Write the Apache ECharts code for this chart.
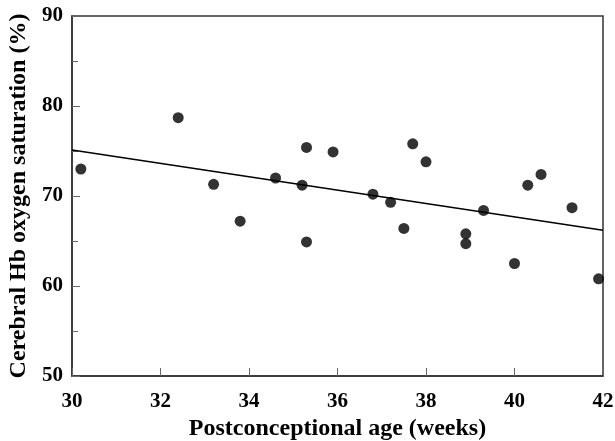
<!DOCTYPE html>
<html>
<head>
<meta charset="utf-8">
<script src="https://cdn.jsdelivr.net/npm/echarts@6/dist/echarts.min.js"></script>
<style>html,body{margin:0;padding:0;background:#fff}#c{width:615px;height:441px}</style>
</head>
<body>
<div id="c"></div>
<script>
const ageWeeks = [30.2, 32.4, 33.2, 33.8, 34.6, 35.2, 35.3, 35.3, 35.9, 36.8, 37.2, 37.5, 37.7, 38.0, 38.9, 38.9, 39.3, 40.0, 40.3, 40.6, 41.3, 41.9];
const saturation = [73.0, 78.7, 71.3, 67.2, 72.0, 71.2, 75.4, 64.9, 74.9, 70.2, 69.3, 66.4, 75.8, 73.8, 65.8, 64.7, 68.4, 62.5, 71.2, 72.4, 68.7, 60.8];
const fitX = [30, 42];
const fitY = [75.1, 66.2];
const xTitle = 'Postconceptional age (weeks)';
const yTitle = 'Cerebral Hb oxygen saturation (%)';

const font = '"Liberation Serif", "Times New Roman", serif';
const chart = echarts.init(document.getElementById('c'));
chart.setOption({
  animation: false,
  grid: {left: 72, right: 12, top: 16, bottom: 65, outerBoundsMode: 'none', containLabel: false, show: true, borderColor: '#333', borderWidth: 1.5, backgroundColor: 'transparent'},
  xAxis: {
    type: 'value', min: 30, max: 42, interval: 2,
    name: xTitle, nameLocation: 'middle', nameGap: 41,
    nameTextStyle: {fontFamily: font, fontWeight: 'bold', fontSize: 24, color: '#000'},
    axisLine: {show: true, onZero: false, lineStyle: {color: '#333', width: 1.5}},
    axisTick: {show: true, inside: true, length: 8, lineStyle: {color: '#666', width: 1}},
    axisLabel: {fontFamily: font, fontWeight: 'bold', fontSize: 21, color: '#000', margin: 15},
    splitLine: {show: false}
  },
  yAxis: {
    type: 'value', min: 50, max: 90, interval: 10,
    name: yTitle, nameLocation: 'middle', nameGap: 40, nameRotate: 90,
    nameTextStyle: {fontFamily: font, fontWeight: 'bold', fontSize: 24, color: '#000'},
    axisLine: {show: true, onZero: false, lineStyle: {color: '#333', width: 1.5}},
    axisTick: {show: true, inside: true, length: 8, lineStyle: {color: '#666', width: 1}},
    minorTick: {show: true, splitNumber: 2, length: 6, lineStyle: {color: '#666', width: 1}},
    axisLabel: {fontFamily: font, fontWeight: 'bold', fontSize: 21, color: '#000', margin: 9},
    splitLine: {show: false}
  },
  series: [
    {
      type: 'line',
      data: fitX.map((x, i) => [x, fitY[i]]),
      symbol: 'none',
      lineStyle: {color: '#000', width: 1.5},
      z: 2
    },
    {
      type: 'scatter',
      data: ageWeeks.map((x, i) => [x, saturation[i]]),
      symbol: 'circle', symbolSize: 11,
      itemStyle: {color: '#000'},
      z: 3
    }
  ]
});
</script>
</body>
</html>
